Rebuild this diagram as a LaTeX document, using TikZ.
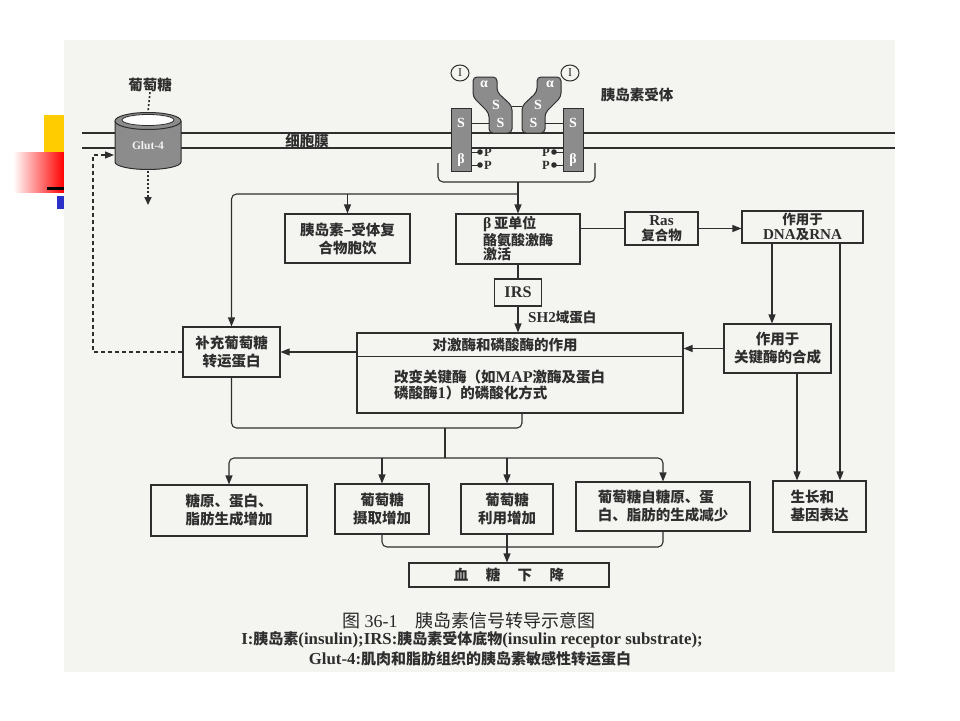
\documentclass[tikz,border=0pt]{standalone}
\usepackage{fontspec}
\setmainfont{Liberation Serif}
\newfontfamily\cjk{Noto Sans CJK SC}
\newfontfamily\latb{Liberation Serif}[Scale=1.12]
\usetikzlibrary{arrows.meta,calc}
\definecolor{ink}{HTML}{2E2E2E}
\definecolor{scanbg}{HTML}{F4F5F0}
\definecolor{recgray}{HTML}{8C8C8C}
\definecolor{slideyellow}{HTML}{FFCC00}
\definecolor{slideblue}{HTML}{2A30C8}
\newcommand\lt[1]{{\latb\bfseries #1}}
\tikzset{
  box/.style={draw=ink, line width=1.1pt, inner sep=0pt, align=center, text=ink,
    font=\cjk\bfseries\fontsize{14.5}{18}\selectfont},
  txt/.style={inner sep=0pt, text=ink, font=\cjk\bfseries\fontsize{14.5}{17}\selectfont},
  line/.style={draw=ink, line width=1.1pt},
  arr/.style={line, -{Triangle[length=9pt,width=7pt]}},
  dasharr/.style={line, dash pattern=on 4pt off 3pt, -{Triangle[length=9pt,width=7pt]}},
  dotarr/.style={line, line width=1.6pt, dash pattern=on 2pt off 2pt, -{Triangle[length=8pt,width=7pt]}},
  rec/.style={fill=recgray, draw=ink, line width=1pt},
  wlab/.style={inner sep=0pt, text=white, font=\rmfamily\bfseries\fontsize{14}{14}\selectfont},
  plab/.style={inner sep=0pt, text=ink, font=\rmfamily\bfseries\fontsize{12.5}{12.5}\selectfont},
}
\begin{document}
\begin{tikzpicture}[x=1pt,y=-1pt]
\useasboundingbox (0,0) rectangle (960,720);
\fill[white] (0,0) rectangle (960,720);
% slide decorations
\fill[slideyellow] (44,115) rectangle (64,152);
\shade[left color=white, right color=red] (13,152) rectangle (64,192);
\fill[black] (47,187) rectangle (64,190);
\fill[slideblue] (57,196) rectangle (64,209);
% scanned page
\fill[scanbg] (64,40) rectangle (895,672);

% membrane
\draw[line] (82,133) -- (895,133);
\draw[line] (82,148) -- (895,148);
\node[txt] (memb) at (307,141) {细胞膜};

% Glut-4 cylinder
\node[txt] (glc) at (150,85) {葡萄糖};
\fill[recgray] (115,121) -- (115,162) arc[start angle=180, end angle=0, x radius=33, y radius=7.5] -- (181,121) -- cycle;
\draw[ink, line width=1pt] (115,121) -- (115,162) arc[start angle=180, end angle=0, x radius=33, y radius=7.5] -- (181,121);
\draw[rec] (148,121) ellipse[x radius=33, y radius=8.5];
\draw[ink, line width=0.8pt, fill=white] (148,120) ellipse[x radius=26, y radius=5.5];
\node[wlab, text=white!90!gray, font=\rmfamily\bfseries\fontsize{11.5}{12}\selectfont] (glutlab) at (148,146) {Glut-4};
\coordinate (cyltop) at (148,112);
\coordinate (cylbot) at (148,171);
\coordinate (cylout) at (148,205);
\coordinate (glutin) at (114,155);
\draw[line, line width=1.6pt, dash pattern=on 2pt off 2pt] (glc.south) -- (cyltop);
\draw[dotarr] (cylbot) -- (cylout);

% insulin receptor
\draw[rec, rounded corners=4pt] (489,133) -- (489,113) -- (473,97) -- (473,77) -- (497,77) -- (497,92) -- (512,106) -- (512,133) -- cycle;
\draw[rec, rounded corners=4pt] (545,133) -- (545,113) -- (561,97) -- (561,77) -- (537,77) -- (537,92) -- (522,106) -- (522,133) -- cycle;
\draw[ink, line width=1pt] (512,106) -- (522,106);
\draw[rec] (451,108) rectangle (471,171);
\draw[rec] (563,108) rectangle (583,171);
\draw[ink, line width=1pt] (471,123) -- (489,123);
\draw[ink, line width=1pt] (545,123) -- (563,123);
\node[wlab] at (484,84) {α};
\node[wlab] at (550,84) {α};
\node[wlab] at (496,105) {S};
\node[wlab] at (538,105) {S};
\node[wlab] at (500.5,123) {S};
\node[wlab] at (533.5,123) {S};
\node[wlab] at (461,123) {S};
\node[wlab] at (573,123) {S};
\node[wlab] at (461,160) {β};
\node[wlab] at (573,160) {β};
\foreach \yy in {152,165}{
  \draw[ink, line width=0.8pt] (471,\yy) -- (479,\yy);
  \fill[ink] (480,\yy) circle[radius=2.8pt];
  \node[plab, anchor=west] at (484,\yy) {P};
  \draw[ink, line width=0.8pt] (555,\yy) -- (563,\yy);
  \fill[ink] (554,\yy) circle[radius=2.8pt];
  \node[plab, anchor=east] at (550,\yy) {P};
}
\draw[ink, line width=1pt] (460,73) ellipse[x radius=9, y radius=8];
\node[plab, font=\rmfamily\fontsize{12}{12}\selectfont] at (460,73) {I};
\draw[ink, line width=1pt] (570,73) ellipse[x radius=9, y radius=8];
\node[plab, font=\rmfamily\fontsize{12}{12}\selectfont] at (570,73) {I};
\node[txt] (reclab) at (637,95) {胰岛素受体};
\draw[line, rounded corners=5pt] (438,163) -- (438,182) -- (595,182) -- (595,163);
\coordinate (rc) at (518,182);
\coordinate (hj) at (518,194);

% boxes
\node[box, minimum width=125pt, minimum height=49pt] (complex) at (347.5,238.5) {胰岛素–受体复\\合物胞饮};
\node[box, minimum width=124pt, minimum height=50pt, align=left, font=\cjk\bfseries\fontsize{14}{14.5}\selectfont] (beta) at (518,239) {\lt{β} 亚单位\\酪氨酸激酶\\激活};
\node[box, minimum width=73pt, minimum height=33pt, font=\cjk\bfseries\fontsize{13.5}{15}\selectfont] (ras) at (661.5,228.5) {\lt{Ras}\\复合物};
\node[box, minimum width=121pt, minimum height=32pt, font=\cjk\bfseries\fontsize{13.5}{15}\selectfont] (dna) at (802.5,227) {作用于\\\lt{DNA}及\lt{RNA}};
\node[box, minimum width=47pt, minimum height=27pt] (irs) at (518,292.5) {\lt{IRS}};
\node[box, minimum width=97pt, minimum height=50pt] (supp) at (231.5,352) {补充葡萄糖\\转运蛋白};
\node[box, minimum width=326pt, minimum height=80pt] (kin) at (520,373) {};
\draw[line] ($(kin.north west)+(0,24)$) -- ($(kin.north east)+(0,24)$);
\node[txt] (kinh) at (505,345) {对激酶和磷酸酶的作用};
\node[txt, align=left, anchor=west, font=\cjk\bfseries\fontsize{14.5}{16.5}\selectfont] (kinb) at (394,385) {改变关键酶（如\lt{MAP}激酶及蛋白\\磷酸酶\lt{1}）的磷酸化方式};
\node[box, minimum width=107pt, minimum height=49pt] (key) at (777.5,348.5) {作用于\\关键酶的合成};
\node[box, minimum width=156pt, minimum height=51pt] (glyc) at (229,510.5) {糖原、蛋白、\\脂肪生成增加};
\node[box, minimum width=94pt, minimum height=50pt] (uptake) at (382,509) {葡萄糖\\摄取增加};
\node[box, minimum width=92pt, minimum height=50pt] (util) at (507,509) {葡萄糖\\利用增加};
\node[box, minimum width=174pt, minimum height=49pt, align=left] (fromgly) at (663,506.5) {葡萄糖自糖原、蛋\\白、脂肪的生成减少};
\node[box, minimum width=93pt, minimum height=51pt, align=left] (growth) at (819.5,506.5) {生长和\\基因表达};
\node[box, minimum width=200pt, minimum height=24pt] (blood) at (509,575) {血\hspace{1.2em}糖\hspace{1.2em}下\hspace{1.2em}降};

% connectors
\draw[arr] (rc) -- (beta.north);
\draw[arr, rounded corners=5pt] (hj) -| (supp.north);
\draw[arr] (complex.north |- hj) -- (complex.north);
\draw[line] (ras.west) -- (ras.west -| beta.east);
\draw[arr] (ras.east) -- (ras.east -| dna.west);
\draw[line] (beta.south) -- (irs.north);
\draw[arr] (irs.south) -- (irs.south |- kin.north);
\node[txt, anchor=west, font=\cjk\bfseries\fontsize{13.5}{15}\selectfont] (sh2) at (528,317) {\lt{SH2}域蛋白};
\draw[arr] ([xshift=-30.5pt]dna.south) -- ([xshift=-30.5pt]dna.south |- key.north);
\draw[arr] ([xshift=37.5pt]dna.south) -- ([xshift=37.5pt]dna.south |- growth.north);
\draw[arr] (key.west) -- (key.west -| kin.east);
\draw[arr] ([xshift=19.5pt]key.south) -- ([xshift=19.5pt]key.south |- growth.north);
\draw[arr] (kin.west |- supp.east) -- (supp.east);
\coordinate (dk) at (93,0);
\draw[dasharr] (supp.west) -| (dk |- glutin) -- (glutin);
\coordinate (bj) at (445,428);
\coordinate (dj) at (445,458);
\draw[line, rounded corners=5pt] (supp.south) |- (bj) -| ([xshift=2pt]kin.south);
\draw[line] (bj) -- (dj);
\draw[arr, rounded corners=5pt] (dj) -| (glyc.north);
\draw[arr, rounded corners=5pt] (dj) -| (fromgly.north);
\draw[arr] (uptake.north |- dj) -- (uptake.north);
\draw[arr] (util.north |- dj) -- (util.north);
\coordinate (ej) at (507,547);
\draw[line, rounded corners=5pt] (uptake.south) |- (ej) -| (fromgly.south);
\draw[arr] (util.south) -- (util.south |- blood.north);

% caption
\node[txt, text=ink!85!black, font=\cjk\fontsize{18}{20}\selectfont] (cap1) at (469,621) {图 {\rmfamily 36-1}\quad 胰岛素信号转导示意图};
\node[txt, font=\cjk\bfseries\fontsize{15}{16}\selectfont] (cap2) at (472,640) {\lt{I:}胰岛素\lt{(insulin);IRS:}胰岛素受体底物\lt{(insulin receptor substrate);}};
\node[txt, font=\cjk\bfseries\fontsize{15}{16}\selectfont] (cap3) at (470,659) {\lt{Glut-4:}肌肉和脂肪组织的胰岛素敏感性转运蛋白};
\end{tikzpicture}
\end{document}
